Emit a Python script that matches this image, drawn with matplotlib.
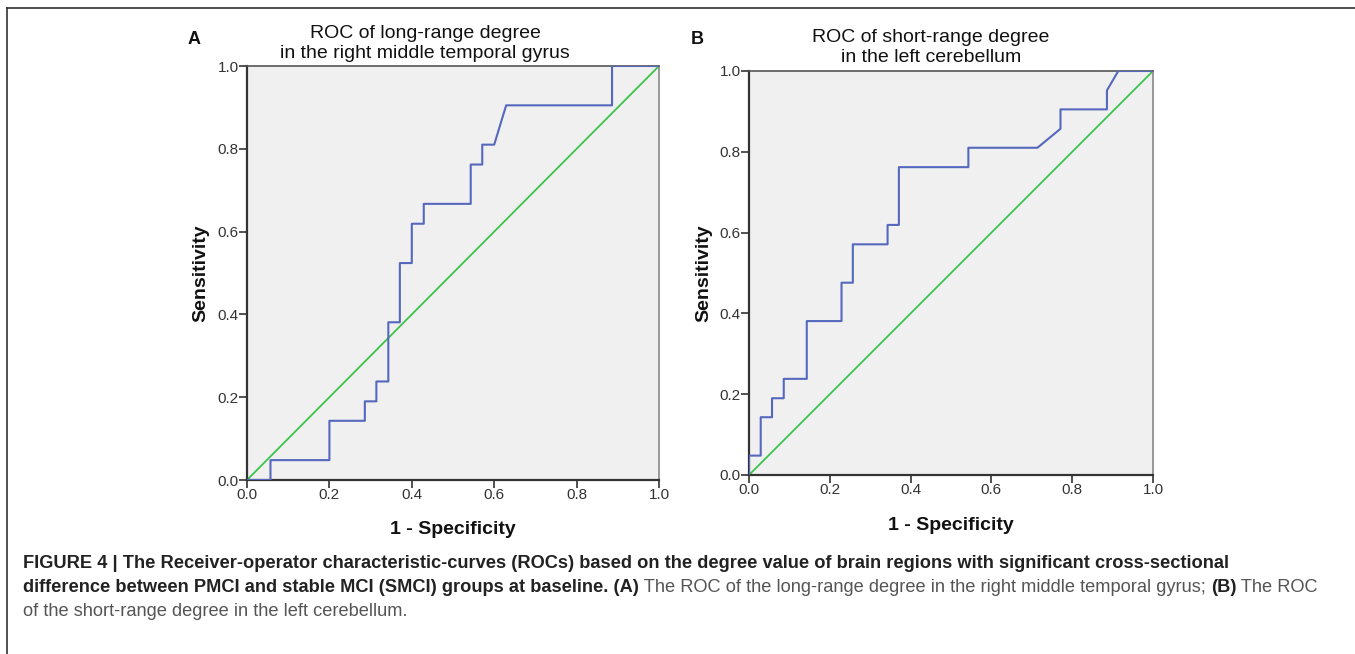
import matplotlib
matplotlib.use("Agg")
import matplotlib.pyplot as plt
from matplotlib.lines import Line2D

# ---------------- data ----------------
fpr_a = [0.0, 0.057, 0.057, 0.200, 0.200, 0.286, 0.286, 0.314, 0.314, 0.343, 0.343,
         0.371, 0.371, 0.400, 0.400, 0.429, 0.429, 0.543, 0.543, 0.571, 0.571,
         0.600, 0.629, 0.886, 0.886, 1.0]
tpr_a = [0.0, 0.0, 0.048, 0.048, 0.143, 0.143, 0.190, 0.190, 0.238, 0.238, 0.381,
         0.381, 0.524, 0.524, 0.619, 0.619, 0.667, 0.667, 0.762, 0.762, 0.810,
         0.810, 0.905, 0.905, 1.0, 1.0]

fpr_b = [0.0, 0.0, 0.029, 0.029, 0.057, 0.057, 0.086, 0.086, 0.143, 0.143, 0.229,
         0.229, 0.257, 0.257, 0.343, 0.343, 0.371, 0.371, 0.543, 0.543, 0.714,
         0.771, 0.771, 0.886, 0.886, 0.914, 1.0]
tpr_b = [0.0, 0.048, 0.048, 0.143, 0.143, 0.190, 0.190, 0.238, 0.238, 0.381, 0.381,
         0.476, 0.476, 0.571, 0.571, 0.619, 0.619, 0.762, 0.762, 0.810, 0.810,
         0.857, 0.905, 0.905, 0.952, 1.0, 1.0]

ref_line = [0.0, 1.0]
ticks = [0.0, 0.2, 0.4, 0.6, 0.8, 1.0]
tick_labels = ["0.0", "0.2", "0.4", "0.6", "0.8", "1.0"]

title_a = "ROC of long-range degree\nin the right middle temporal gyrus"
title_b = "ROC of short-range degree\nin the left cerebellum"
ylabel = "Sensitivity"
xlabel = "1 - Specificity"

cap1 = ("FIGURE 4 | The Receiver-operator characteristic-curves (ROCs) based on the degree "
        "value of brain regions with significant cross-sectional")
cap2 = [("difference between PMCI and stable MCI (SMCI) groups at baseline. (A)", True),
        (" The ROC of the long-range degree in the right middle temporal gyrus; ", False),
        ("(B)", True),
        (" The ROC", False)]
cap3 = "of the short-range degree in the left cerebellum."

# ---------------- figure ----------------
W, H = 1355, 654
plt.rcParams['font.family'] = ['Liberation Sans', 'DejaVu Sans']
fig = plt.figure(figsize=(W / 100, H / 100), dpi=100)
fig.patch.set_facecolor("white")


def fx(px):
    return px / W


def fy(py):
    return 1 - py / H


BLUE = "#5568bd"
GREEN = "#3cc34a"
SPINE = "#333333"


def make_panel(left, top, right, bottom, fpr, tpr, title, tcx, ty1, letter, lx, ly,
               ylab_x, xlab_y):
    ax = fig.add_axes([fx(left), fy(bottom), fx(right - left), (bottom - top) / H])
    ax.set_facecolor("#f0f0f0")
    ax.plot(ref_line, ref_line, color=GREEN, lw=1.3, solid_capstyle="butt", zorder=2)
    ax.plot(fpr, tpr, color=BLUE, lw=1.5, zorder=3)
    ax.set_xlim(0, 1)
    ax.set_ylim(0, 1)
    ax.set_xticks(ticks)
    ax.set_xticklabels(tick_labels)
    ax.set_yticks(ticks)
    ax.set_yticklabels(tick_labels)
    for s in ax.spines.values():
        s.set_color(SPINE)
        s.set_linewidth(1.6)
    ax.spines['right'].set_color("#888888")
    ax.spines['right'].set_linewidth(1.2)
    ax.spines['top'].set_color("#555555")
    ax.spines['top'].set_linewidth(1.2)
    ax.tick_params(direction="out", length=6, width=1.2, color=SPINE,
                   labelsize=11, labelcolor="#333333", pad=0)
    fig.text(fx(tcx), fy(ty1), title, ha="center", va="top", fontsize=14,
             linespacing=1.2, color="#111111")
    fig.text(fx(lx), fy(ly), letter, ha="left", va="center", fontsize=13,
             fontweight="bold", color="#111111")
    fig.text(fx(ylab_x), fy((top + bottom) / 2), ylabel, rotation=90, ha="center",
             va="center", fontsize=14, fontweight="bold", color="#111111")
    fig.text(fx((left + right) / 2), fy(xlab_y), xlabel, ha="center", va="center",
             fontsize=14, fontweight="bold", color="#111111")
    return ax


make_panel(247, 66, 659, 480, fpr_a, tpr_a, title_a, 425, 25, "A", 188, 40, 201, 530)
make_panel(749, 71, 1153, 475, fpr_b, tpr_b, title_b, 931, 29, "B", 691, 40, 704, 525)

# outer frame lines
fig.add_artist(Line2D([fx(7), fx(7)], [fy(8), fy(654)], color="#333333", lw=1.2))
fig.add_artist(Line2D([fx(7), fx(1355)], [fy(8), fy(8)], color="#333333", lw=1.2))

# caption
renderer = fig.canvas.get_renderer()
cap_size = 11.5
t1 = fig.text(fx(23), fy(563), cap1, ha="left", va="center", fontsize=cap_size,
              fontweight="bold", color="#222222")
bb = t1.get_window_extent(renderer)
cap_size = cap_size * (1209 / bb.width)
t1.set_fontsize(cap_size)

x = 23
for txt, bold in cap2:
    t = fig.text(fx(x), fy(588), txt, ha="left", va="center", fontsize=cap_size,
                 fontweight="bold" if bold else "normal",
                 color="#222222" if bold else "#555555")
    x += t.get_window_extent(renderer).width
fig.text(fx(23), fy(612), cap3, ha="left", va="center", fontsize=cap_size,
         color="#555555")

fig.savefig("out.png", dpi=100, facecolor="white")
